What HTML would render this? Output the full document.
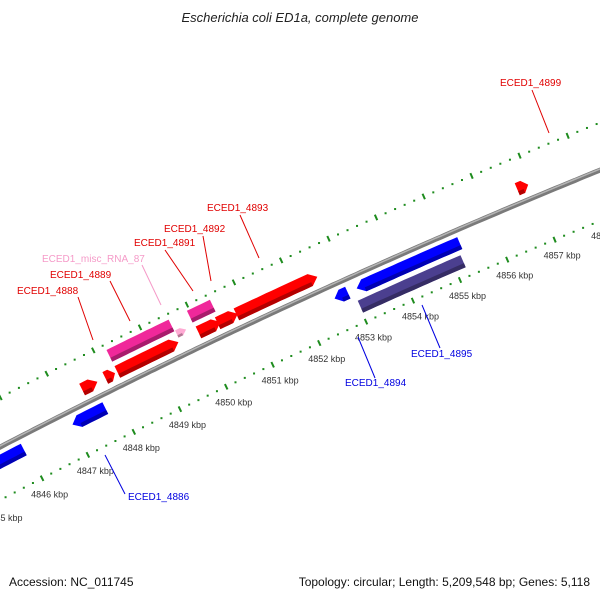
<!DOCTYPE html>
<html><head><meta charset="utf-8"><style>
html,body{margin:0;padding:0;background:#fff;}
svg{display:block;font-family:"Liberation Sans",sans-serif;}
</style></head><body>
<svg id="map" width="600" height="600" viewBox="0 0 600 600" xmlns="http://www.w3.org/2000/svg">
<rect width="600" height="600" fill="#fff"/>
<text x="300" y="22" text-anchor="middle" font-size="13" font-style="italic" fill="#222">Escherichia coli ED1a, complete genome</text>
<g id="rulers"></g>
<g id="backbone"></g>
<g id="features"></g>
<g id="labels"></g>
<text x="9" y="586" font-size="12" fill="#111">Accession: NC_011745</text>
<text x="590" y="586" text-anchor="end" font-size="12" fill="#111">Topology: circular; Length: 5,209,548 bp; Genes: 5,118</text>
</svg>
<script>
// ---- data ----
const featNames  = ['f4888a','f4888','f4889','f4891','f4892','f4893','f4899','m4889','m4891','misc87','b4885','b4886','b4894','b4895','p4895'];
const featStart  = [4847.47,4847.97,4848.23,4849.97,4850.38,4850.78,4856.71,4848.23,4849.95,4849.58,4845.2,4847.0,4852.63,4853.1,4853.02];
const featEnd    = [4847.80,4848.18,4849.54,4850.44,4850.81,4852.50,4856.94,4849.56,4850.44,4849.78,4845.94,4847.71,4852.91,4855.28,4855.2];
const featRow    = [1,1,1,1,1,1,1,2,2,1.5,-1,-1,-1,-1,-2];
const featColor  = ['#ff0000','#ff0000','#ff0000','#ff0000','#ff0000','#ff0000','#ff0000','#f0289a','#f0289a','#ffaad4','#0000ff','#0000ff','#0000ff','#0000ff','#4b3f8f'];
const featArrow  = [1,1,1,1,1,1,1,0,0,1,-1,-1,-1,-1,0];
const tickKbp    = [4844,4845,4846,4847,4848,4849,4850,4851,4852,4853,4854,4855,4856,4857,4858];
const tickLabels = ['4844 kbp','4845 kbp','4846 kbp','4847 kbp','4848 kbp','4849 kbp','4850 kbp','4851 kbp','4852 kbp','4853 kbp','4854 kbp','4855 kbp','4856 kbp','4857 kbp','4858 kbp'];
const labelText  = ['ECED1_4899','ECED1_4893','ECED1_4892','ECED1_4891','ECED1_misc_RNA_87','ECED1_4889','ECED1_4888','ECED1_4886','ECED1_4894','ECED1_4895'];
const labelColor = ['#e00000','#e00000','#e00000','#e00000','#f59ac8','#e00000','#e00000','#0000e0','#0000e0','#0000e0'];
const labelX     = [500,207,164,134,42,50,17,128,345,411];
const labelY     = [86,211,232,246,262,278,294,500,386,357];
const lineFrom   = [[532,90],[240,215],[203,236],[165,250],[142,265],[110,281],[78,297],[125,494],[375,378],[440,348]];
const lineTo     = [[549,133],[259,258],[211,281],[193,291],[161,305],[130,321],[93,340],[105,455],[358,337],[422,305]];

// ---- geometry (axis functions) ----
const NS='http://www.w3.org/2000/svg';
const CX=3263, CY=6727, R_BB=7077, R_UP=7121, R_LO=7030;
const rowR={'1':7091,'2':7109,'1.5':7099,'-1':7064,'-2':7046};
function ang(k){return (-116.85+(k-4847)*0.419)*Math.PI/180;}
function pt(k,r){const a=ang(k);return [CX+r*Math.cos(a),CY+r*Math.sin(a)];}
function mk(tag,attrs,parent){const e=document.createElementNS(NS,tag);for(const k in attrs)e.setAttribute(k,attrs[k]);parent.appendChild(e);return e;}
function arcPts(k1,k2,r){const p=[];const n=Math.max(2,Math.ceil((k2-k1)*10));for(let i=0;i<=n;i++)p.push(pt(k1+(k2-k1)*i/n,r));return p;}
function P(a){return a.map(p=>p[0].toFixed(1)+','+p[1].toFixed(1)).join(' ');}

// rulers
const rul=document.getElementById('rulers');
for(let k=4843;k<=4859.01;k+=0.2){
  const kk=Math.round(k*10)/10;
  const major=Math.abs(kk-Math.round(kk))<0.01;
  [R_UP,R_LO].forEach(r=>{
    if(major){
      const a=pt(kk,r-3),b=pt(kk,r+3);
      const t=mk('line',{x1:a[0],y1:a[1],x2:b[0],y2:b[1],stroke:'#1e8c1e','stroke-width':2},rul);
      
      
    }else{
      const c=pt(kk,r);
      const d=mk('rect',{x:c[0]-1,y:c[1]-1,width:2,height:2,fill:'#1e8c1e'},rul);
      
      
    }
  });
}
tickKbp.forEach((k,i)=>{
  const c=pt(k,R_LO);
  const t=mk('text',{x:c[0]-11,y:c[1]+19,'font-size':9,fill:'#333'},rul);
  t.textContent=tickLabels[i];
  
  
});

// backbone
const bb=document.getElementById('backbone');
const bbPts=arcPts(4843,4860,R_BB);
const b1=mk('polyline',{points:P(bbPts),fill:'none',stroke:'#7a7a7a','stroke-width':5},bb);


const b2=mk('polyline',{points:P(arcPts(4843,4860,R_BB+1)),fill:'none',stroke:'#b4b4b4','stroke-width':1.5},bb);



// features
const fg=document.getElementById('features');
function shade(hex){const n=parseInt(hex.slice(1),16);const f=0.7;return 'rgb('+Math.round((n>>16&255)*f)+','+Math.round((n>>8&255)*f)+','+Math.round((n&255)*f)+')';}
featNames.forEach((nm,i)=>{
  const r=rowR[String(featRow[i])];
  const h=(featRow[i]===1.5)?4:6.5;
  const k1=featStart[i],k2=featEnd[i],dir=featArrow[i];
  const head=Math.min(0.15,(k2-k1)*0.5);
  let outer,inner,pts;
  if(dir===1){
    outer=arcPts(k1,k2-head,r+h);inner=arcPts(k1,k2-head,r-h).reverse();
    pts=outer.concat([pt(k2,r)]).concat(inner);
  }else if(dir===-1){
    outer=arcPts(k1+head,k2,r+h);inner=arcPts(k1+head,k2,r-h).reverse();
    pts=outer.concat(inner).concat([pt(k1,r)]);
  }else{
    pts=arcPts(k1,k2,r+h).concat(arcPts(k1,k2,r-h).reverse());
  }
  const g=mk('g',{},fg);
  
  
  mk('polygon',{points:P(pts),fill:featColor[i]},g);
  // darker lower face
  const lo=r-h, mid=r-h*0.35;
  let s1=k1+(dir===-1?head:0), s2=k2-(dir===1?head:0);
  const sp=arcPts(s1,s2,mid).concat(arcPts(s1,s2,lo).reverse());
  mk('polygon',{points:P(sp),fill:shade(featColor[i])},g);
});

// labels
const lg=document.getElementById('labels');
labelText.forEach((t,i)=>{
  const l=mk('line',{x1:lineFrom[i][0],y1:lineFrom[i][1],x2:lineTo[i][0],y2:lineTo[i][1],stroke:labelColor[i],'stroke-width':1},lg);
  
  
  const tx=mk('text',{x:labelX[i],y:labelY[i],'font-size':10,fill:labelColor[i]},lg);
  tx.textContent=t;
  
  
});
</script>
</body></html>
